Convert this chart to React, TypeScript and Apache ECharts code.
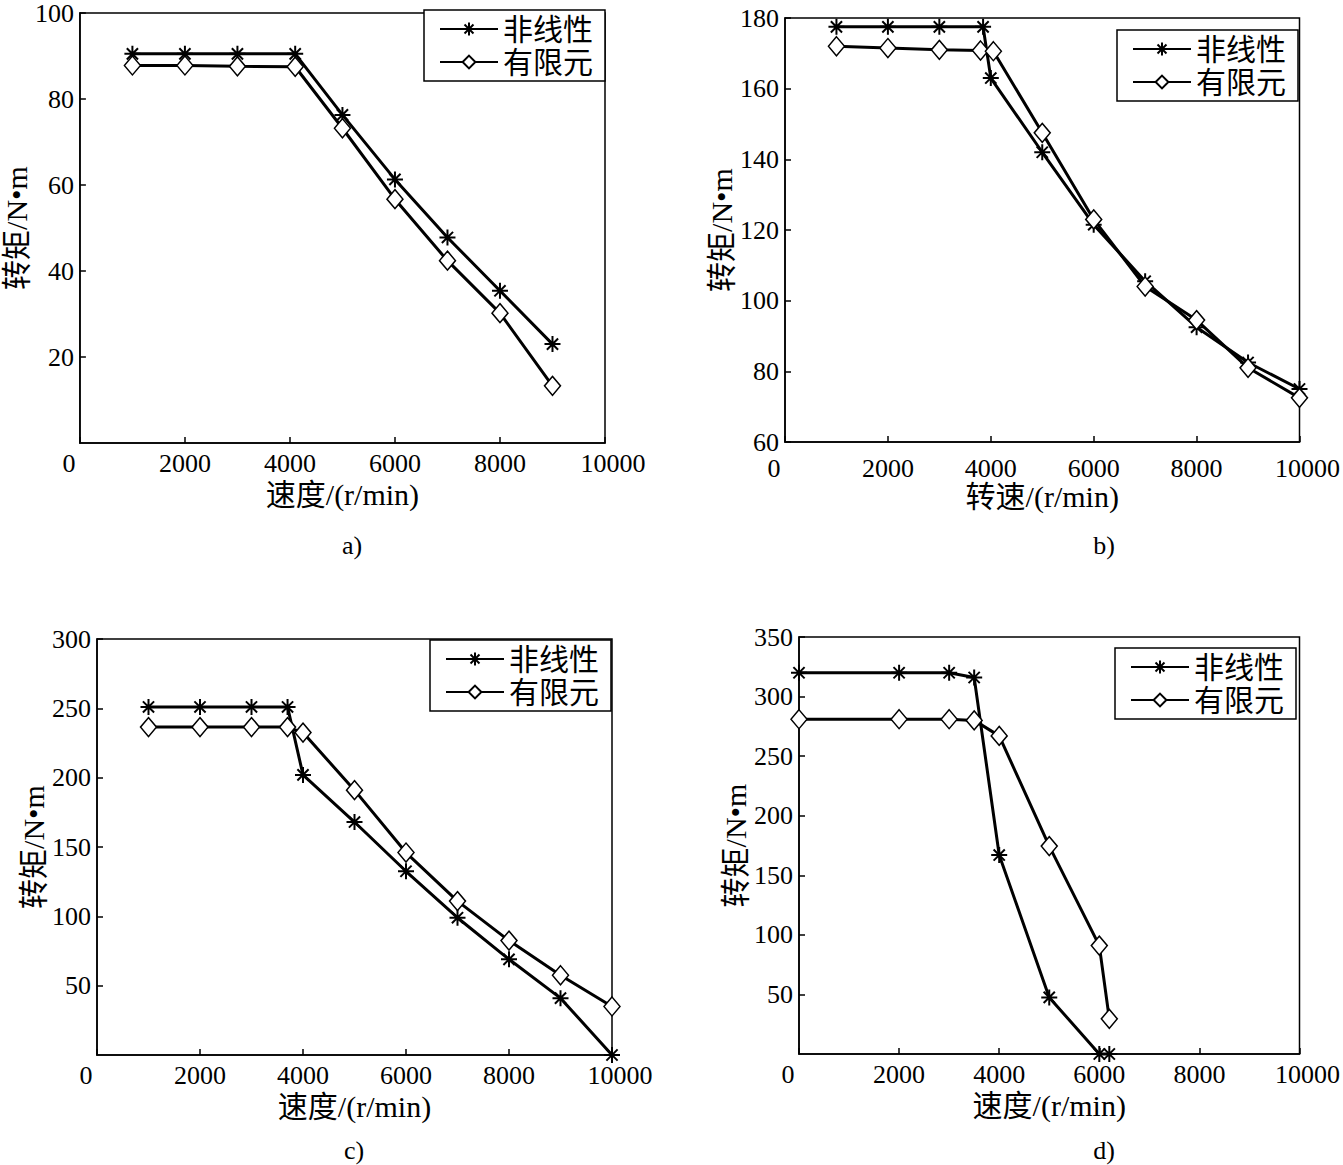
import React, { useEffect, useRef } from "react";
import * as echarts from "echarts";

// ---- data ----
const aSpeed = [1000, 2000, 3000, 4100, 5000, 6000, 7000, 8000, 9000];
const aNonlinear = [90.5, 90.5, 90.5, 90.5, 76.3, 61.3, 47.8, 35.4, 23.0];
const aFem = [87.8, 87.8, 87.6, 87.5, 73.2, 56.7, 42.4, 30.2, 13.3];

const bSpeedNonlinear = [1000, 2000, 3000, 3850, 4000, 5000, 6000, 7000, 8000, 9000, 10000];
const bNonlinear = [177.5, 177.5, 177.5, 177.5, 163, 142, 121.5, 105.5, 92.5, 82.5, 75];
const bSpeedFem = [1000, 2000, 3000, 3800, 4050, 5000, 6000, 7000, 8000, 9000, 10000];
const bFem = [172, 171.5, 171, 170.8, 170.6, 147.5, 123, 104, 94.5, 81, 72.5];

const cSpeed = [1000, 2000, 3000, 3700, 4000, 5000, 6000, 7000, 8000, 9000, 10000];
const cNonlinear = [251, 251, 251, 251, 202, 168, 132.5, 99, 69, 41, 0];
const cFem = [236.5, 236.5, 236.5, 236.5, 232.5, 191, 146, 111, 82.5, 57.5, 35];

const dSpeed = [0, 2000, 3000, 3500, 4000, 5000, 6000, 6200];
const dNonlinear = [320, 320, 320, 316, 167, 47.5, 0, 0];
const dFem = [281, 281, 281, 280, 267, 174.5, 91, 29.5];

const seriesNames = ["非线性", "有限元"];
const yTitle = "转矩/N•m";
const xTitles = ["速度/(r/min)", "转速/(r/min)", "速度/(r/min)", "速度/(r/min)"];
const captions = ["a)", "b)", "c)", "d)"];
const yRanges = [
  [0, 100, 20, false],
  [60, 180, 20, true],
  [0, 300, 50, false],
  [0, 350, 50, false],
] as const;

const SERIF = "'Liberation Serif', 'Times New Roman', 'Noto Sans CJK SC', serif";
const STAR = "path://M0,-10L0,10M-10,0L10,0M-7,-7L7,7M-7,7L7,-7";

const zip = (xs: number[], ys: number[]) => xs.map((x, i) => [x, ys[i]]);

export default function App() {
  const ref = useRef<HTMLDivElement>(null);
  useEffect(() => {
    if (!ref.current) return;
    const chart = echarts.init(ref.current, null, { renderer: "svg" });

    const grids = [
      { left: 78, top: 10, width: 527, height: 433 },
      { left: 785, top: 18, width: 519, height: 424 },
      { left: 97, top: 639, width: 515, height: 416 },
      { left: 799, top: 637, width: 504, height: 417 },
    ];
    const yNameGaps = [30, 38, 46, 49];
    const xLabelMargins = [7, 13, 7, 7];
    const xNameGaps = [36, 34, 36, 36];
    const legendPos = [
      { left: 424, top: 10 },
      { left: 1117, top: 30 },
      { left: 430, top: 640 },
      { left: 1115, top: 648 },
    ];
    const captionPos = [
      [352, 545],
      [1104, 545],
      [354, 1150],
      [1104, 1150],
    ];

    const xAxis = grids.map((_, i) => ({
      type: "value",
      gridIndex: i,
      min: 0,
      max: 10000,
      interval: 2000,
      name: xTitles[i],
      nameLocation: "middle",
      nameGap: xNameGaps[i],
      nameTextStyle: { fontFamily: SERIF, fontSize: 30, color: "#000" },
      axisLine: { lineStyle: { color: "#000", width: 1.5 } },
      axisTick: { inside: true, length: 6, lineStyle: { color: "#000", width: 1.5 } },
      axisLabel: {
        color: "#000",
        fontFamily: SERIF,
        fontSize: 26,
        margin: xLabelMargins[i],
        formatter: (v: number) => (v === 0 ? "{z|0}" : v === 10000 ? "{m|10000}" : String(v)),
        rich: {
          z: { padding: [0, 22, 0, 0], fontFamily: SERIF, fontSize: 26, color: "#000" },
          m: { padding: [0, 0, 0, 16], fontFamily: SERIF, fontSize: 26, color: "#000" },
        },
      },
      splitLine: { show: false },
    }));

    const yAxis = grids.map((_, i) => ({
      type: "value",
      gridIndex: i,
      min: yRanges[i][0],
      max: yRanges[i][1],
      interval: yRanges[i][2],
      name: yTitle,
      nameLocation: "middle",
      nameGap: yNameGaps[i],
      nameRotate: 90,
      nameTextStyle: { fontFamily: SERIF, fontSize: 30, color: "#000" },
      axisLine: { lineStyle: { color: "#000", width: 1.5 } },
      axisTick: { inside: true, length: 6, lineStyle: { color: "#000", width: 1.5 } },
      axisLabel: {
        color: "#000",
        fontFamily: SERIF,
        fontSize: 26,
        margin: 6,
        showMinLabel: yRanges[i][3],
      },
      splitLine: { show: false },
    }));

    const dataSets = [
      [zip(aSpeed, aNonlinear), zip(aSpeed, aFem)],
      [zip(bSpeedNonlinear, bNonlinear), zip(bSpeedFem, bFem)],
      [zip(cSpeed, cNonlinear), zip(cSpeed, cFem)],
      [zip(dSpeed, dNonlinear), zip(dSpeed, dFem)],
    ];

    const series: any[] = [];
    dataSets.forEach((pair, i) => {
      series.push({
        type: "line",
        name: seriesNames[0],
        xAxisIndex: i,
        yAxisIndex: i,
        data: pair[0],
        clip: false,
        symbol: STAR,
        symbolSize: 16,
        lineStyle: { color: "#000", width: 3 },
        itemStyle: { color: "#000", borderColor: "#000", borderWidth: 2 },
        z: 3,
      });
      series.push({
        type: "line",
        name: seriesNames[1],
        xAxisIndex: i,
        yAxisIndex: i,
        data: pair[1],
        clip: false,
        symbol: "diamond",
        symbolSize: [16, 19],
        lineStyle: { color: "#000", width: 3 },
        itemStyle: { color: "#fff", borderColor: "#000", borderWidth: 1.5 },
        z: 4,
      });
    });

    const legend = legendPos.map((p) => ({
      ...p,
      orient: "vertical",
      data: seriesNames,
      selectedMode: false,
      borderColor: "#000",
      borderWidth: 1.5,
      borderRadius: 0,
      backgroundColor: "#fff",
      padding: [4, 12, 4, 15],
      itemWidth: 58,
      itemHeight: 16,
      itemGap: 3,
      textStyle: { fontFamily: SERIF, fontSize: 30, color: "#000" },
    }));

    chart.setOption({
      animation: false,
      backgroundColor: "#fff",
      grid: grids.map((g) => ({ ...g, show: true, borderColor: "#000", borderWidth: 1.5, backgroundColor: "transparent" })),
      xAxis,
      yAxis,
      legend,
      series,
      graphic: captions.map((t, i) => ({
        type: "text",
        x: captionPos[i][0],
        y: captionPos[i][1],
        style: {
          text: t,
          fontFamily: SERIF,
          fontSize: 26,
          fill: "#000",
          align: "center",
          verticalAlign: "middle",
        },
      })),
    });
    return () => chart.dispose();
  }, []);
  return (
    <div
      ref={ref}
      style={{ position: "absolute", left: 0, top: 0, width: 1343, height: 1165, background: "#fff" }}
    />
  );
}
